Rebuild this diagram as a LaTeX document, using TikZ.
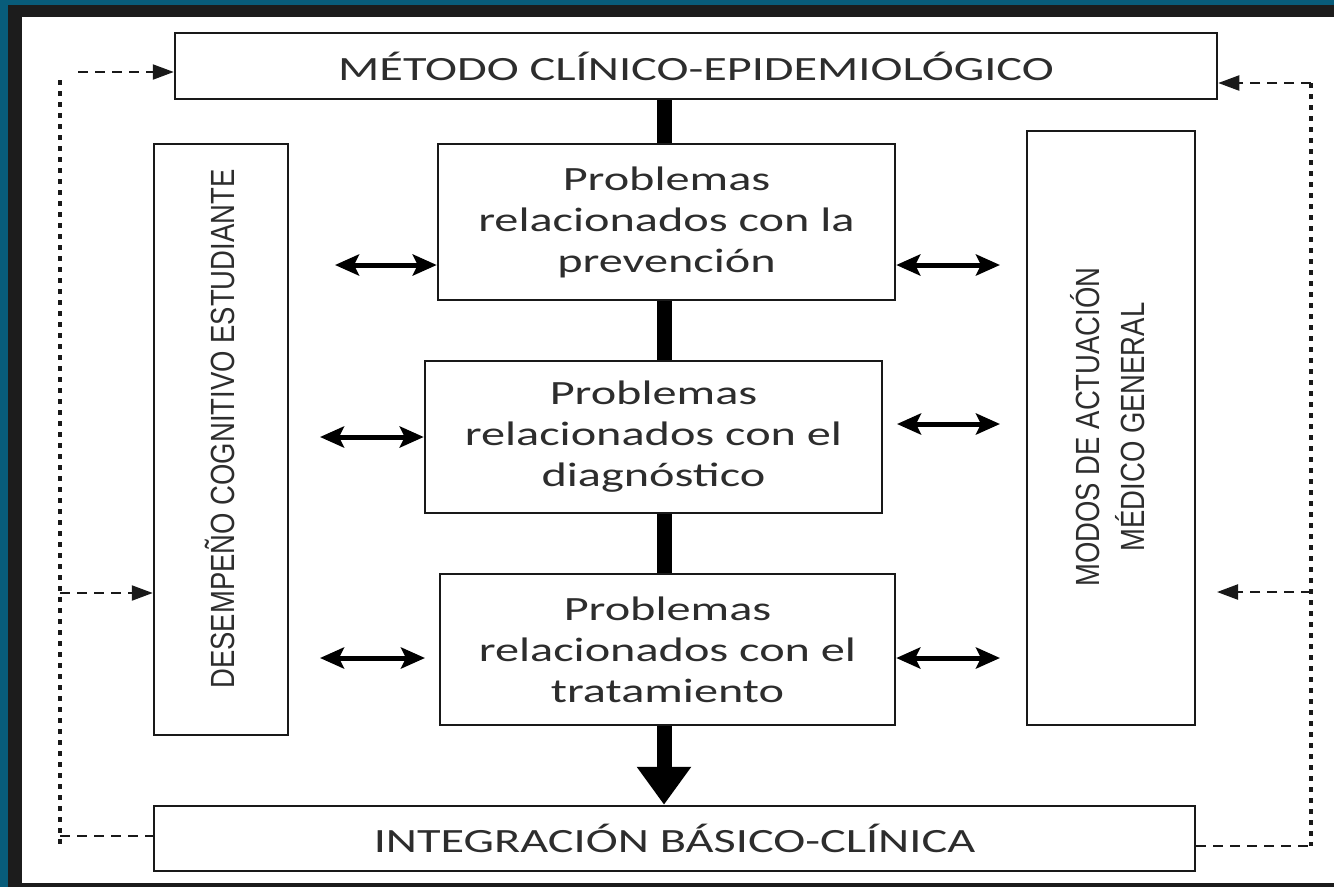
\documentclass[tikz,border=0pt]{standalone}
\usepackage{fontspec}
\setmainfont{Carlito}
\newfontfamily\hfont{Carlito}[FakeStretch=1.42]
\newfontfamily\vfont{Liberation Sans}[FakeStretch=0.82]
\usetikzlibrary{arrows.meta}
\definecolor{teal0}{RGB}{8,92,122}
\definecolor{band}{RGB}{28,28,28}
\definecolor{txt}{RGB}{45,45,45}
\definecolor{ln}{RGB}{25,25,25}
\begin{document}
\begin{tikzpicture}[x=1pt,y=-1pt,
 box/.style={draw=ln, line width=2.5pt, fill=white, inner sep=0pt, text=txt},
 htext/.style={font=\hfont\fontsize{34}{41}\selectfont, align=center},
 vtext/.style={font=\vfont\fontsize{33.5}{45}\selectfont, align=center, rotate=90, text=txt, inner sep=0pt},
 spinebar/.style={line width=15pt, draw=black},
 dbl/.style={line width=5pt, draw=black, {Stealth[length=24pt,width=21pt,inset=5pt]}-{Stealth[length=24pt,width=21pt,inset=5pt]}},
 hdash/.style={line width=2.2pt, draw=ln, dash pattern=on 10pt off 7pt},
 vdot/.style={line width=3.5pt, draw=ln, dash pattern=on 5pt off 6pt},
 dtip/.style={-{Triangle[length=21pt,width=15pt]}},
]
\useasboundingbox (0,0) rectangle (1334,887);
\fill[white] (0,0) rectangle (1334,887);
\fill[teal0] (0,0) rectangle (8,887);
\fill[teal0] (0,0) rectangle (1334,5);
\fill[band] (8,5) rectangle (22,887);
\fill[band] (8,5) rectangle (1334,17);
\fill[band] (8,883) rectangle (1334,887);

% boxes
\node[box, minimum width=1042pt, minimum height=66pt, htext] (top) at (696,66) {MÉTODO CLÍNICO-EPIDEMIOLÓGICO};
\node[box, minimum width=457pt, minimum height=156pt, htext] (p1) at (666.5,222) {Problemas\\relacionados con la\\prevención};
\node[box, minimum width=457pt, minimum height=152pt, htext] (p2) at (653.5,437) {Problemas\\relacionados con el\\diagnóstico};
\node[box, minimum width=455pt, minimum height=151pt, htext] (p3) at (667.5,649.5) {Problemas\\relacionados con el\\tratamiento};
\node[box, minimum width=1041pt, minimum height=65pt, htext] (B) at (674.5,838.5) {INTEGRACIÓN BÁSICO-CLÍNICA};
\node[box, minimum width=134pt, minimum height=591pt] (L) at (221,439.5) {};
\node[vtext] (Ltxt) at (220,429) {DESEMPEÑO COGNITIVO ESTUDIANTE};
\node[box, minimum width=168pt, minimum height=594pt] (R) at (1111,428) {};
\node[vtext] (Rtxt) at (1108,427) {MODOS DE ACTUACIÓN\\MÉDICO GENERAL};

% spine
\coordinate (sp) at (664,0);
\draw[spinebar] (top.south -| sp) -- (p1.north -| sp);
\draw[spinebar] (p1.south -| sp) -- (p2.north -| sp);
\draw[spinebar] (p2.south -| sp) -- (p3.north -| sp);
\draw[line width=15pt, -{Triangle[length=38pt,width=52pt]}] (p3.south -| sp) -- (B.north -| sp);

% double arrows
\coordinate (a1) at (335,265);
\coordinate (a2) at (1000,265);
\draw[dbl] (a1) -- (a1 -| p1.west);
\draw[dbl] (a2 -| p1.east) -- (a2);
\coordinate (b1) at (320,437);
\draw[dbl] (b1) -- (b1 -| p2.west);
\coordinate (b2s) at (897,424);
\coordinate (b2e) at (1000,424);
\draw[dbl] (b2s) -- (b2e);
\coordinate (c1s) at (320,658);
\coordinate (c1e) at (425,658);
\draw[dbl] (c1s) -- (c1e);
\coordinate (c2) at (1000,658);
\draw[dbl] (c2 -| p3.east) -- (c2);

% feedback loops
\coordinate (lv1) at (60,80);
\coordinate (lv2) at (60,847);
\draw[vdot] (lv1) -- (lv2);
\coordinate (lt) at (78,72);
\draw[hdash,dtip] (lt) -- (lt -| top.west);
\coordinate (lm) at (60,593);
\draw[hdash,dtip] (lm) -- (lm -| L.west);
\coordinate (lb) at (60,836);
\draw[hdash] (lb) -- (lb -| B.west);

\coordinate (rv1) at (1311,83);
\coordinate (rv2) at (1311,846);
\draw[vdot] (rv1) -- (rv2);
\draw[hdash,dtip] (rv1) -- (rv1 -| top.east);
\coordinate (rm) at (1311,592);
\coordinate (rmt) at (1217,592);
\draw[hdash,dtip] (rm) -- (rmt);
\draw[hdash] (rv2 -| B.east) -- (rv2);
\end{tikzpicture}
\end{document}
